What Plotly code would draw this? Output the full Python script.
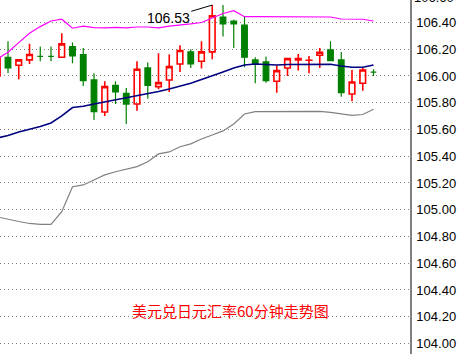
import plotly.graph_objects as go

# ---- data (USD/JPY, 60-minute bars) ----
bar_index = list(range(36))
open_ = [106.00, 106.14, 106.08, 106.12, 106.147, 106.147, 106.14, 106.22, 106.16, 105.97,
         105.73, 105.93, 105.87, 105.79, 106.06, 105.92, 105.97, 106.09, 106.18, 106.11,
         106.18, 106.44, 106.41, 106.38, 106.12, 106.105, 105.96, 106.06, 106.12, 106.117,
         106.155, 106.195, 106.12, 105.865, 105.945, 106.028]
high = [106.16, 106.26, 106.12, 106.24, 106.22, 106.22, 106.32, 106.25, 106.21, 106.02,
        105.96, 105.96, 105.91, 106.11, 106.10, 106.17, 106.16, 106.23, 106.20, 106.26,
        106.53, 106.53, 106.42, 106.44, 106.14, 106.145, 106.08, 106.135, 106.165, 106.15,
        106.21, 106.26, 106.18, 106.045, 106.06, 106.05]
low = [105.99, 106.02, 105.975, 106.09, 106.11, 106.11, 106.14, 106.095, 105.925, 105.67,
       105.70, 105.79, 105.64, 105.74, 105.83, 105.90, 105.88, 106.03, 106.06, 106.055,
       106.125, 106.295, 106.21, 106.065, 105.945, 105.95, 105.875, 106.00, 106.04, 106.02,
       106.06, 106.115, 105.845, 105.81, 105.89, 106.00]
close = [106.14, 106.06, 106.12, 106.16, 106.147, 106.147, 106.24, 106.15, 105.965, 105.733,
         105.92, 105.88, 105.79, 106.05, 105.93, 105.95, 106.07, 106.19, 106.09, 106.18,
         106.45, 106.39, 106.39, 106.14, 106.09, 105.965, 106.04, 106.13, 106.13, 106.118,
         106.177, 106.115, 105.875, 105.955, 106.045, 106.028]

upper_band = [106.127, 106.177, 106.249, 106.319, 106.369, 106.411, 106.424, 106.357, 106.372, 106.361,
              106.359, 106.363, 106.359, 106.366, 106.366, 106.359, 106.372, 106.378, 106.389, 106.400,
              106.434, 106.467, 106.488, 106.443, 106.443, 106.443, 106.443, 106.443, 106.443, 106.443,
              106.443, 106.441, 106.426, 106.424, 106.424, 106.411]
middle_band = [105.536, 105.555, 105.581, 105.601, 105.622, 105.649, 105.701, 105.764, 105.773, 105.791,
               105.806, 105.824, 105.839, 105.850, 105.869, 105.884, 105.903, 105.925, 105.945, 105.974,
               106.000, 106.030, 106.060, 106.082, 106.090, 106.086, 106.082, 106.086, 106.087, 106.087,
               106.087, 106.087, 106.075, 106.065, 106.065, 106.082]
lower_band = [104.946, 104.927, 104.912, 104.897, 104.891, 104.891, 104.985, 105.172, 105.185, 105.222,
              105.260, 105.284, 105.301, 105.322, 105.359, 105.417, 105.432, 105.471, 105.492, 105.529,
              105.559, 105.589, 105.641, 105.716, 105.733, 105.733, 105.735, 105.735, 105.735, 105.735,
              105.735, 105.727, 105.716, 105.706, 105.712, 105.751]

tick_values = [104.0, 104.2, 104.4, 104.6, 104.8, 105.0, 105.2, 105.4, 105.6, 105.8, 106.0, 106.2, 106.4]
tick_labels = ["104.00", "104.20", "104.40", "104.60", "104.80", "105.00", "105.20",
               "105.40", "105.60", "105.80", "106.00", "106.20", "106.40"]
top_tick_value = 106.6
top_tick_label = "106.60"

peak_label = "106.53"
title_text = "美元兑日元汇率60分钟走势图"

y_range = [103.921, 106.568]

# ---- figure ----
fig = go.Figure()

fig.add_trace(go.Candlestick(
    x=bar_index, open=open_, high=high, low=low, close=close,
    increasing=dict(line=dict(color="#ff0000", width=1.6), fillcolor="rgba(255,255,255,0)"),
    decreasing=dict(line=dict(color="#008000", width=1.2), fillcolor="#008000"),
    whiskerwidth=0, hoverinfo="skip", showlegend=False,
))

fig.add_trace(go.Scatter(x=bar_index, y=upper_band, mode="lines",
                         line=dict(color="#ff00ff", width=1.2), hoverinfo="skip", showlegend=False))
fig.add_trace(go.Scatter(x=bar_index, y=middle_band, mode="lines",
                         line=dict(color="#000080", width=1.6), hoverinfo="skip", showlegend=False))
fig.add_trace(go.Scatter(x=bar_index, y=lower_band, mode="lines",
                         line=dict(color="#808080", width=1.2), hoverinfo="skip", showlegend=False))

peak_i = max(range(len(high)), key=lambda k: high[k])
fig.add_annotation(x=bar_index[peak_i], y=high[peak_i], xref="x", yref="y",
                   text=peak_label, showarrow=True, arrowhead=0, arrowwidth=1,
                   arrowcolor="#000000", ax=-44, ay=13,
                   font=dict(family="Liberation Sans, Arial", size=14, color="#000000"))

fig.add_annotation(x=0.561, y=0.124, xref="paper", yref="paper", text=title_text,
                   showarrow=False, xanchor="center", yanchor="middle",
                   font=dict(family="Noto Sans CJK SC", size=15, color="#ff0000"))

top_label_paper_y = 1 + (top_tick_value - y_range[1]) / (y_range[1] - y_range[0])
fig.add_annotation(x=1, y=top_label_paper_y, xref="paper", yref="paper", text=top_tick_label,
                   showarrow=False, xanchor="left", yanchor="middle", xshift=2, yshift=-2,
                   font=dict(family="Liberation Sans, Arial", size=13, color="#000000"))

fig.update_layout(
    width=462, height=354, autosize=False,
    margin=dict(l=0, r=52, t=0, b=0),
    paper_bgcolor="white", plot_bgcolor="white",
    boxgap=0.25,
    xaxis=dict(range=[0.256, 38.395], showgrid=False, zeroline=False, showticklabels=False,
               showline=False, ticks="", rangeslider=dict(visible=False), fixedrange=True),
    yaxis=dict(range=y_range, side="right", tickvals=tick_values, ticktext=tick_labels,
               showgrid=True, gridcolor="#808080", gridwidth=1, griddash="1px,3px",
               showline=True, linecolor="#808080", linewidth=1.5, ticks="", zeroline=False,
               tickfont=dict(family="Liberation Sans, Arial", size=13, color="#000000"),
               ticklabelstandoff=2, fixedrange=True),
)

fig.write_html("out.html")
